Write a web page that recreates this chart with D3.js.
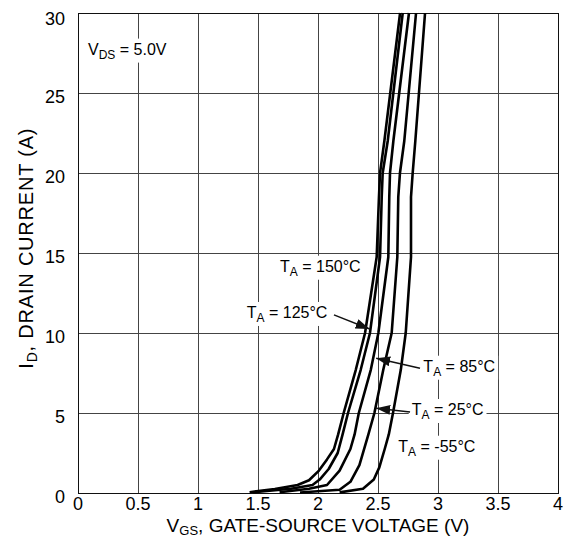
<!DOCTYPE html>
<html>
<head>
<meta charset="utf-8">
<script src="https://cdn.jsdelivr.net/npm/d3@7"></script>
<style>
  body { margin: 0; background: #fff; }
  svg { font-family: "Liberation Sans", Arial, sans-serif; }
</style>
</head>
<body>
<script>
// Transfer characteristics as [VGS (V), ID (A)]
const temps = ['150', '125', '85', '25', '-55'];
const curve150 = [[1.43, 0.05], [1.64, 0.25], [1.83, 0.5], [1.925, 0.8], [2.008, 1.4], [2.075, 2.1], [2.133, 2.75], [2.168, 3.66], [2.214, 5], [2.315, 7.7], [2.392, 10], [2.489, 14.75], [2.508, 18.5], [2.517, 20], [2.553, 22], [2.684, 30]];
const curve125 = [[1.46, 0.05], [1.775, 0.27], [1.954, 0.5], [2.014, 0.84], [2.089, 1.5], [2.164, 2.5], [2.205, 3.66], [2.25, 5], [2.356, 7.7], [2.433, 10], [2.517, 14.75], [2.531, 18.5], [2.539, 20], [2.581, 22], [2.706, 30]];
const curve85 = [[1.68, 0.05], [1.925, 0.27], [2.075, 0.5], [2.18, 1.4], [2.27, 2.75], [2.305, 3.66], [2.34, 5], [2.44, 7.7], [2.503, 10], [2.586, 14.75], [2.594, 18.5], [2.6, 20], [2.628, 22], [2.758, 30]];
const curve25 = [[1.85, 0.03], [2.18, 0.2], [2.27, 0.7], [2.345, 1.74], [2.42, 3.66], [2.47, 5], [2.544, 7.7], [2.614, 10], [2.661, 14.75], [2.669, 18.5], [2.683, 20], [2.719, 22], [2.817, 30]];
const curveM55 = [[2.18, 0.04], [2.375, 0.27], [2.465, 0.84], [2.511, 1.6], [2.556, 2.75], [2.59, 3.66], [2.625, 5], [2.69, 7.7], [2.731, 10], [2.775, 14.75], [2.775, 18.5], [2.789, 20], [2.811, 22], [2.892, 30]];
const curves = [curve150, curve125, curve85, curve25, curveM55];

const xTicks = [0, 0.5, 1, 1.5, 2, 2.5, 3, 3.5, 4];
const xTickLabels = ['0', '0.5', '1', '1.5', '2', '2.5', '3', '3.5', '4'];
const yTicks = [0, 5, 10, 15, 20, 25, 30];

// label anchor [V, I] and optional arrow [fromV, fromI, toV, toI]
const labelPos = [[1.683, 13.83], [1.406, 10.94], [2.878, 7.58], [2.781, 4.875], [2.669, 2.58]];
const arrows = [null, [2.133, 11.13, 2.43, 10.25], [2.85, 7.8, 2.485, 8.42], [2.767, 5.06, 2.485, 5.29], null];

const width = 569;
const height = 540;
const marginTop = 13;
const marginLeft = 78;
const plotW = 480;
const plotH = 480;

const x = d3.scaleLinear().domain([0, 4]).range([marginLeft, marginLeft + plotW]);
const y = d3.scaleLinear().domain([0, 30]).range([marginTop + plotH, marginTop]);

const svg = d3.select('body').append('svg')
  .attr('width', width)
  .attr('height', height);

svg.append('defs').append('marker')
  .attr('id', 'arrow')
  .attr('markerUnits', 'userSpaceOnUse')
  .attr('viewBox', '0 -5 14 10')
  .attr('refX', 14)
  .attr('refY', 0)
  .attr('markerWidth', 14)
  .attr('markerHeight', 10)
  .attr('orient', 'auto')
  .append('path')
  .attr('d', 'M0,-5L14,0L0,5Z')
  .attr('fill', '#111');

// grid
const grid = svg.append('g').attr('stroke', '#444').attr('stroke-width', 1);
grid.selectAll('line.v').data(xTicks).join('line')
  .attr('x1', d => Math.round(x(d)) + 0.5).attr('x2', d => Math.round(x(d)) + 0.5)
  .attr('y1', y(0)).attr('y2', y(30));
grid.selectAll('line.h').data(yTicks).join('line')
  .attr('class', 'h')
  .attr('y1', d => Math.round(y(d)) + 0.5).attr('y2', d => Math.round(y(d)) + 0.5)
  .attr('x1', x(0)).attr('x2', x(4));

svg.append('rect')
  .attr('x', x(0) + 0.5).attr('y', y(30) + 0.5)
  .attr('width', plotW).attr('height', plotH)
  .attr('fill', 'none').attr('stroke', '#111');

// tick labels
svg.append('g').selectAll('text').data(xTicks).join('text')
  .attr('x', d => x(d))
  .attr('y', y(0) + 17)
  .attr('text-anchor', 'middle')
  .attr('font-size', 18)
  .text((d, i) => xTickLabels[i]);

svg.append('g').selectAll('text').data(yTicks).join('text')
  .attr('x', marginLeft - 13)
  .attr('y', d => d === 30 ? y(d) + 12 : y(d) + 10)
  .attr('text-anchor', 'end')
  .attr('font-size', 18)
  .text(d => d);

// axis titles
const xt = svg.append('text')
  .attr('x', x(2))
  .attr('y', 532)
  .attr('text-anchor', 'middle')
  .attr('font-size', 19);
xt.append('tspan').text('V');
xt.append('tspan').attr('font-size', 13).attr('dy', 3).text('GS');
xt.append('tspan').attr('dy', -3).text(', GATE-SOURCE VOLTAGE (V)');

const yt = svg.append('text')
  .attr('transform', `translate(33,${y(15.3)}) rotate(-90)`)
  .attr('text-anchor', 'middle')
  .attr('font-size', 20)
  .attr('letter-spacing', 0.8);
yt.append('tspan').text('I');
yt.append('tspan').attr('font-size', 14).attr('dy', 4).text('D');
yt.append('tspan').attr('dy', -4).text(', DRAIN CURRENT (A)');

// curves
const line = d3.line().x(d => x(d[0])).y(d => y(d[1]));
svg.append('g').selectAll('path').data(curves).join('path')
  .attr('d', line)
  .attr('fill', 'none')
  .attr('stroke', '#000')
  .attr('stroke-width', 2.6)
  .attr('stroke-linejoin', 'round');

// labels with white backing
function subLabel(px, py, main, sub, rest, size) {
  const g = svg.append('g');
  const t = g.append('text').attr('x', px).attr('y', py).attr('font-size', size);
  t.append('tspan').text(main);
  t.append('tspan').attr('font-size', size * 0.75).attr('dy', 4).text(sub);
  t.append('tspan').attr('dy', -4).text(rest);
  const b = t.node().getBBox();
  g.insert('rect', 'text')
    .attr('x', b.x - 3).attr('y', b.y - 2)
    .attr('width', b.width + 6).attr('height', b.height + 3)
    .attr('fill', '#fff');
  return g;
}

subLabel(x(0.083), y(27.4), 'V', 'DS', ' = 5.0V', 16);

temps.forEach((t, i) => {
  const p = labelPos[i];
  subLabel(x(p[0]), y(p[1]), 'T', 'A', ` = ${t}°C`, 16);
  const a = arrows[i];
  if (a) {
    svg.append('line')
      .attr('x1', x(a[0])).attr('y1', y(a[1]))
      .attr('x2', x(a[2])).attr('y2', y(a[3]))
      .attr('stroke', '#111').attr('stroke-width', 1.5)
      .attr('marker-end', 'url(#arrow)');
  }
});
</script>
</body>
</html>
